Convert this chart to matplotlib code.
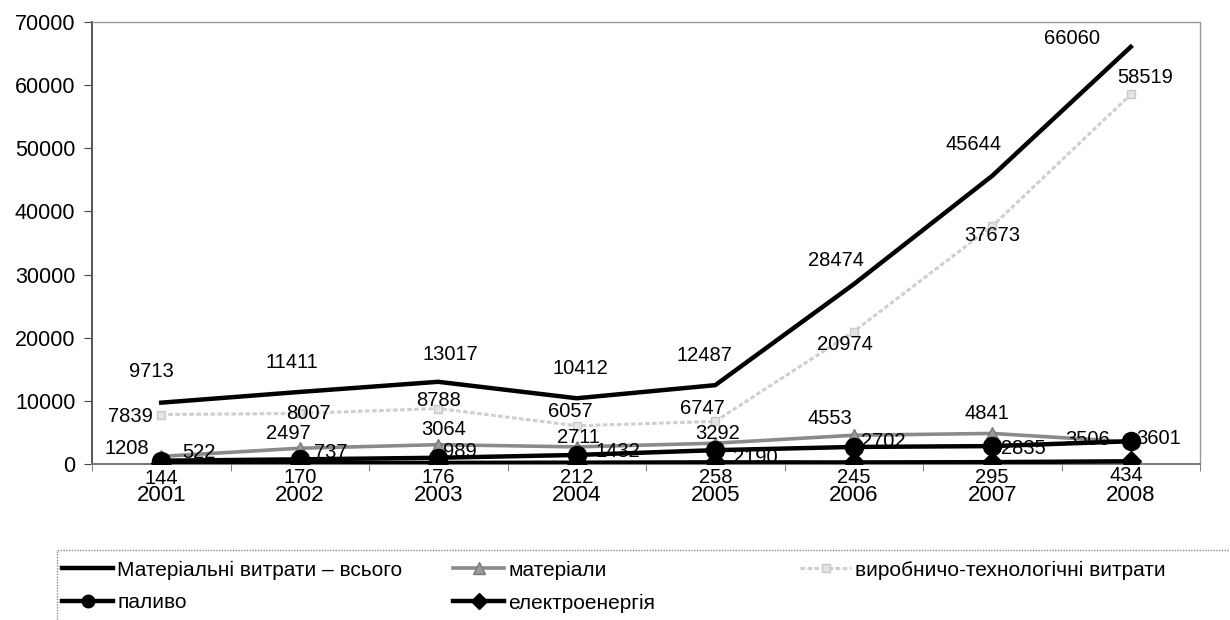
import matplotlib
matplotlib.use("Agg")
import matplotlib.pyplot as plt
from matplotlib.lines import Line2D
from matplotlib.patches import Rectangle

plt.rcParams['font.family'] = ['Liberation Sans', 'DejaVu Sans']

years = ['2001', '2002', '2003', '2004', '2005', '2006', '2007', '2008']
total = [9713, 11411, 13017, 10412, 12487, 28474, 45644, 66060]
production = [7839, 8007, 8788, 6057, 6747, 20974, 37673, 58519]
materials = [1208, 2497, 3064, 2711, 3292, 4553, 4841, 3506]
fuel = [522, 737, 989, 1432, 2190, 2702, 2835, 3601]
electricity = [144, 170, 176, 212, 258, 245, 295, 434]

names = ['Матеріальні витрати – всього', 'матеріали',
         'виробничо-технологічні витрати', 'паливо', 'електроенергія']

# value-label offsets in pixels (dx, dy) for each series
off_total = [(-10, 31), (-8, 29), (12, 27), (4, 30), (-11, 30), (-18, 24), (-19, 31), (-59, 8)]
off_prod = [(-31, -2), (9, 0), (0, 8), (-6, 14), (-13, 13), (-9, -13), (0, -9), (14, 17)]
off_mat = [(-34, 8), (-11, 15), (5, 15), (2, 9), (2, 10), (-24, 17), (-5, 20), (-43, 2)]
off_fuel = [(38, 8), (31, 7), (22, 6), (41, 3), (40, -7), (29, 5), (31, -2), (28, 3)]
off_el = [(0, -15)] * 7 + [(-4, -14)]

W, H = 1230, 620
fig = plt.figure(figsize=(W / 100, H / 100), dpi=100)
ax = fig.add_axes([92 / W, 1 - 464 / H, (1200 - 92) / W, (464 - 22) / H])

x = list(range(len(years)))

style_total = dict(color='black', lw=3.2)
style_prod = dict(color='#cfcfcf', lw=2.2, ls=(0, (1.5, 0.8)),
                  marker='s', mfc='#e4e4e4', mec='#c8c8c8')
style_mat = dict(color='#8a8a8a', lw=2.6, marker='^', mfc='#9a9a9a', mec='#7a7a7a')
style_fuel = dict(color='black', lw=3.2, marker='o')
style_el = dict(color='black', lw=3.2, marker='D')

ax.plot(x, production, ms=6, zorder=2, **style_prod)
ax.plot(x, materials, ms=9, zorder=3, **style_mat)
ax.plot(x, electricity, ms=10, zorder=4, **style_el)
ax.plot(x, fuel, ms=13, zorder=5, **style_fuel)
ax.plot(x, total, zorder=6, **style_total)

for series, offs in [(total, off_total), (production, off_prod), (materials, off_mat),
                     (fuel, off_fuel), (electricity, off_el)]:
    for i, v in enumerate(series):
        ax.annotate(str(v), (i, v), xytext=offs[i], textcoords='offset pixels',
                    ha='center', va='center', fontsize=14.5, color='black', zorder=10)

ax.set_xlim(-0.5, len(years) - 0.5)
ax.set_ylim(0, 70000)
ax.set_yticks(range(0, 70001, 10000))
ax.set_yticklabels([str(v) for v in range(0, 70001, 10000)], fontsize=15.5)
ax.set_xticks(x)
ax.set_xticklabels(years, fontsize=16)
ax.set_xticks([i - 0.5 for i in range(len(years) + 1)], minor=True)
ax.tick_params(axis='x', which='major', length=0, pad=15)
ax.tick_params(axis='x', which='minor', length=5, color='#666666', direction='out')
ax.tick_params(axis='y', length=6, color='#444444', pad=6)

for side in ['top', 'right']:
    ax.spines[side].set_color('#999999')
    ax.spines[side].set_linewidth(1.0)
    ax.spines[side].set_linestyle((0, (1, 1)))
ax.spines['left'].set_color('#555555')
ax.spines['left'].set_linewidth(1.4)
ax.spines['bottom'].set_color('#777777')
ax.spines['bottom'].set_linewidth(1.4)

# legend: one entry per slot, two rows of columns
entries = [
    (Line2D([], [], **style_total), names[0], 62, 570),
    (Line2D([], [], ms=8, **style_mat), names[1], 453, 570),
    (Line2D([], [], ms=6, **style_prod), names[2], 800, 570),
    (Line2D([], [], ms=9, **style_fuel), names[3], 62, 603),
    (Line2D([], [], ms=8, **style_el), names[4], 453, 603),
]
for handle, text, px, py in entries:
    fig.legend([handle], [text], loc='center left',
               bbox_to_anchor=(px / W, 1 - py / H), frameon=False,
               fontsize=15, handlelength=2.45, handletextpad=0.2,
               borderpad=0, borderaxespad=0)

fig.patches.append(Rectangle((57 / W, 1 - 640 / H), (1240 - 57) / W, (640 - 550) / H,
                             transform=fig.transFigure, fill=False,
                             edgecolor='#888888', lw=1.0, ls=(0, (1, 1))))

fig.savefig('out.png', dpi=100)
